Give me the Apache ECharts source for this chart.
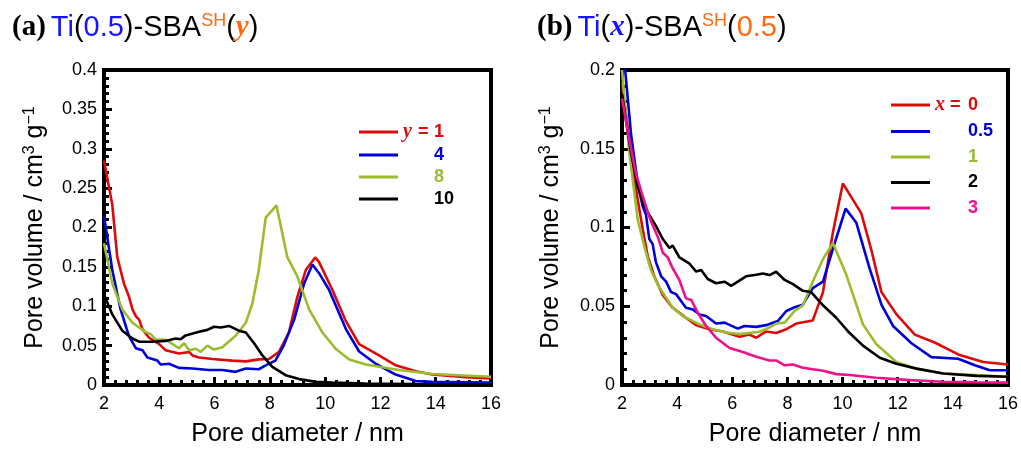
<!DOCTYPE html>
<html>
<head>
<meta charset="utf-8">
<script src="https://cdn.jsdelivr.net/npm/echarts@6/dist/echarts.min.js"></script>
<style>html,body{margin:0;padding:0;background:#fff}#c{width:1021px;height:452px}</style>
</head>
<body>
<div id="c"></div>
<script>
// ---- data (panel a) ----
const a_y1_x = [2.0,2.3,2.48,2.72,2.9,3.03,3.15,3.27,3.39,3.63,4.0,4.23,4.71,5.08,5.2,5.44,5.92,6.64,7.13,7.6,7.97,8.33,8.69,9.0,9.3,9.64,9.78,10.26,10.75,11.23,11.95,12.55,13.28,13.88,15.09,16.0];
const a_y1_v = [0.285,0.229,0.1625,0.129,0.1125,0.096,0.0875,0.083,0.071,0.060,0.052,0.044,0.040,0.042,0.0375,0.035,0.033,0.031,0.030,0.0325,0.033,0.042,0.067,0.1125,0.146,0.162,0.156,0.121,0.081,0.052,0.0375,0.025,0.0175,0.0133,0.010,0.0083];
const a_y4_x = [2.0,2.3,2.6,2.9,3.15,3.39,3.57,3.75,3.93,4.05,4.35,4.71,5.2,5.8,6.28,6.76,7.13,7.6,7.85,8.2,8.5,8.88,9.24,9.54,9.78,10.14,10.75,11.23,11.83,12.55,13.28,13.88,16.0];
const a_y4_v = [0.215,0.146,0.096,0.0625,0.0467,0.044,0.035,0.033,0.031,0.026,0.027,0.0217,0.021,0.019,0.019,0.0167,0.021,0.020,0.025,0.031,0.05,0.083,0.129,0.153,0.142,0.121,0.071,0.0425,0.027,0.0133,0.005,0.004,0.003];
const a_y8_x = [2.0,2.3,2.66,3.03,3.27,3.5,3.69,3.87,4.23,4.71,4.9,5.08,5.32,5.5,5.74,5.98,6.28,6.76,7.13,7.37,7.6,7.85,8.24,8.63,9.0,9.42,9.9,10.38,10.87,11.47,12.68,13.88,16.0];
const a_y8_v = [0.18,0.129,0.096,0.079,0.073,0.0675,0.0646,0.058,0.0575,0.0467,0.053,0.044,0.046,0.042,0.05,0.045,0.048,0.0625,0.079,0.104,0.146,0.2125,0.228,0.1625,0.1375,0.096,0.0667,0.046,0.0325,0.026,0.019,0.014,0.0104];
const a_y10_x = [2.0,2.3,2.66,3.03,3.27,3.75,4.23,4.59,4.77,4.95,5.44,5.74,5.98,6.22,6.52,6.88,7.13,7.43,7.73,8.09,8.57,9.06,9.66,10.26,11.47,13.88,16.0];
const a_y10_v = [0.115,0.0896,0.069,0.059,0.055,0.055,0.056,0.059,0.058,0.063,0.0675,0.07,0.074,0.073,0.075,0.069,0.0667,0.053,0.0375,0.023,0.0125,0.0075,0.004,0.003,0.002,0.001,0.001];

// ---- data (panel b) ----
const b_x0_x = [2.0,2.27,2.51,2.75,2.93,3.17,3.48,3.84,4.32,4.69,5.17,5.66,6.26,6.62,6.87,7.23,7.59,7.96,8.32,8.92,9.29,9.65,10.01,10.68,11.04,11.41,11.95,12.62,13.34,14.25,15.1,16.0];
const b_x0_v = [0.192,0.155,0.124,0.099,0.082,0.069,0.057,0.049,0.0427,0.038,0.0354,0.034,0.0306,0.032,0.030,0.034,0.033,0.0354,0.039,0.041,0.059,0.097,0.128,0.109,0.086,0.059,0.045,0.032,0.027,0.019,0.0146,0.013];
const b_x05_x = [2.0,2.12,2.33,2.57,2.75,2.87,2.99,3.11,3.23,3.42,3.6,3.78,3.96,4.32,4.57,4.81,5.05,5.41,5.72,6.2,6.44,6.87,7.23,7.65,7.96,8.26,8.56,8.92,9.29,9.65,10.11,10.5,10.98,11.41,11.83,12.5,13.22,14.19,14.8,15.34,16.0];
const b_x05_v = [0.225,0.199,0.159,0.128,0.1135,0.108,0.0927,0.0896,0.078,0.069,0.0656,0.059,0.0577,0.049,0.048,0.0448,0.0438,0.039,0.0396,0.0358,0.0375,0.0369,0.038,0.0406,0.047,0.0494,0.051,0.0615,0.0656,0.0865,0.112,0.103,0.074,0.051,0.0375,0.0265,0.0177,0.0167,0.0125,0.0094,0.0094];
const b_x1_x = [2.0,2.27,2.57,2.87,3.05,3.3,3.54,3.84,4.2,4.45,4.81,5.29,5.78,6.26,6.99,7.35,7.59,7.9,8.26,8.56,8.92,9.29,9.65,10.14,10.74,11.22,11.95,12.68,13.65,14.86,16.0];
const b_x1_v = [0.2,0.147,0.105,0.084,0.073,0.0635,0.057,0.049,0.0438,0.0417,0.0385,0.0354,0.0333,0.0323,0.0338,0.0365,0.039,0.0396,0.047,0.0506,0.0656,0.080,0.090,0.0698,0.0385,0.026,0.0146,0.0104,0.0073,0.0063,0.0052];
const b_x2_x = [2.0,2.3,2.57,2.81,2.99,3.23,3.48,3.72,3.84,4.08,4.45,4.69,4.87,5.11,5.41,5.72,5.96,6.2,6.5,6.87,7.11,7.35,7.59,7.9,8.2,8.56,8.86,9.29,9.77,10.2,10.74,11.35,11.95,12.68,13.65,14.86,16.0];
const b_x2_v = [0.185,0.15,0.126,0.1135,0.108,0.101,0.0927,0.087,0.0885,0.081,0.077,0.072,0.073,0.0673,0.0646,0.0656,0.063,0.0656,0.069,0.070,0.0708,0.0698,0.0719,0.0667,0.064,0.0598,0.059,0.0506,0.0427,0.034,0.025,0.0173,0.0135,0.0104,0.0073,0.0058,0.0052];
const b_x3_x = [2.0,2.27,2.51,2.75,2.93,3.05,3.3,3.48,3.66,3.84,4.08,4.32,4.51,4.75,5.05,5.41,5.9,6.38,6.87,7.35,7.59,7.9,8.2,8.56,9.29,9.77,10.26,11.22,12.44,13.65,14.86,16.0];
const b_x3_v = [0.182,0.155,0.134,0.12,0.110,0.104,0.094,0.084,0.081,0.074,0.0667,0.055,0.054,0.0458,0.0375,0.030,0.0235,0.021,0.018,0.0156,0.0156,0.0125,0.013,0.011,0.009,0.0069,0.0063,0.0046,0.0031,0.0021,0.0017,0.0015];

// ---- axis ticks ----
const xTicks = [2, 4, 6, 8, 10, 12, 14, 16];
const yTicksA = [0, 0.05, 0.1, 0.15, 0.2, 0.25, 0.3, 0.35, 0.4];
const yTicksB = [0, 0.05, 0.1, 0.15, 0.2];

const C = {red:'#dc0a0a', blue:'#0000dc', green:'#9bbd2d', black:'#000000', pink:'#f0108c', tblue:'#1414ff', orange:'#ff6a10'};
const SANS = 'Liberation Sans, Arial, sans-serif';
const SERIF = 'Liberation Serif, Times New Roman, serif';

const zip = (xs, vs) => xs.map((x, i) => [x, vs[i]]);

const axisLineStyle = {show:true, onZero:false, lineStyle:{color:'#000', width:4, cap:'square'}};
const majorTick = {show:true, inside:true, length:8, lineStyle:{color:'#000', width:3}};
const minorTick = {show:true, splitNumber:5, length:5, lineStyle:{color:'#000', width:3}};

function xAxisFor(gi) {
  return {
    type:'value', gridIndex:gi, min:xTicks[0], max:xTicks[xTicks.length-1], interval:xTicks[1]-xTicks[0],
    name:'Pore diameter / nm', nameLocation:'middle', nameGap:37,
    nameTextStyle:{fontFamily:SANS, fontSize:25, color:'#000'},
    axisLine:axisLineStyle, axisTick:majorTick, minorTick:minorTick,
    splitLine:{show:false}, minorSplitLine:{show:false},
    axisLabel:{fontFamily:SANS, fontSize:18, color:'#000', margin:10}
  };
}
function yAxisFor(gi, ticks, gap) {
  return {
    type:'value', gridIndex:gi, min:ticks[0], max:ticks[ticks.length-1], interval:ticks[1]-ticks[0],
    name:'Pore volume / cm{sup|3} g{sup|−1}', nameLocation:'middle', nameGap:gap,
    nameTextStyle:{fontFamily:SANS, fontSize:25, color:'#000', lineHeight:27,
      rich:{sup:{fontFamily:SANS, fontSize:16, color:'#000', verticalAlign:'top', lineHeight:12}}},
    axisLine:axisLineStyle, axisTick:majorTick, minorTick:minorTick,
    splitLine:{show:false}, minorSplitLine:{show:false},
    axisLabel:{fontFamily:SANS, fontSize:18, color:'#000', margin:7,
      formatter: v => String(+v.toFixed(2))}
  };
}
function line(name, gi, xs, vs, color) {
  return {name, type:'line', xAxisIndex:gi, yAxisIndex:gi, data:zip(xs, vs),
    symbol:'none', smooth:false, clip:true, lineStyle:{color, width:2.6}, itemStyle:{color}};
}

const legendLabels = {
  y1:'{yv|y}{eqr| = }{nr|1}', y4:'{pad| }{nb|4}', y8:'{pad| }{ng|8}', y10:'{pad| }{nk|10}',
  x0:'{xv|x}{eqr2| = }{nr|0}', x05:'{pad2| }{nb|0.5}', x1:'{pad2| }{ng|1}', x2:'{pad2| }{nk|2}', x3:'{pad2| }{nm|3}'
};
const num = c => ({fontFamily:SANS, fontSize:18, fontWeight:'bold', color:c});
const legRich = {
  yv:{fontFamily:SERIF, fontSize:20, fontStyle:'italic', fontWeight:'bold', color:C.red, width:10},
  xv:{fontFamily:SERIF, fontSize:20, fontStyle:'italic', fontWeight:'bold', color:C.red, width:10},
  eqr:{fontFamily:SANS, fontSize:18, fontWeight:'bold', color:C.red, width:21},
  eqr2:{fontFamily:SANS, fontSize:18, fontWeight:'bold', color:C.red, width:23},
  pad:{fontSize:18, width:31}, pad2:{fontSize:18, width:33},
  nr:num(C.red), nb:num(C.blue), ng:num(C.green), nk:num(C.black), nm:num(C.pink)
};
function legendFor(names, left, top, gap) {
  return {data:names, left, top, padding:0, orient:'vertical', icon:'rect', itemWidth:39, itemHeight:3, itemGap:gap,
    selectedMode:false, formatter: n => legendLabels[n],
    textStyle:{fontFamily:SANS, fontSize:18, lineHeight:18, rich:legRich}};
}

const titleRich = {
  p:{fontFamily:SERIF, fontSize:29, fontWeight:'bold', color:'#000'},
  b:{fontFamily:SANS, fontSize:29, fontWeight:'normal', color:C.tblue},
  k:{fontFamily:SANS, fontSize:29, fontWeight:'normal', color:'#000'},
  o:{fontFamily:SANS, fontSize:29, fontWeight:'normal', color:C.orange},
  sup:{fontFamily:SANS, fontSize:18, fontWeight:'normal', color:C.orange, verticalAlign:'top', lineHeight:16},
  yi:{fontFamily:SERIF, fontSize:29, fontStyle:'italic', fontWeight:'bold', color:C.orange},
  xi:{fontFamily:SERIF, fontSize:29, fontStyle:'italic', fontWeight:'bold', color:C.tblue}
};

const chart = echarts.init(document.getElementById('c'), null, {renderer:'canvas'});
chart.setOption({
  animation:false,
  backgroundColor:'#fff',
  title:[
    {left:12, top:12, padding:0, text:'{p|(a)} {b|Ti}{k|(}{b|0.5}{k|)-SBA}{sup|SH}{k|(}{yi|y}{k|)}', textStyle:{fontWeight:'normal', lineHeight:32, rich:titleRich}},
    {left:537, top:12, padding:0, text:'{p|(b)} {b|Ti}{k|(}{xi|x}{k|)-SBA}{sup|SH}{k|(}{o|0.5}{k|)}', textStyle:{fontWeight:'normal', lineHeight:32, rich:titleRich}}
  ],
  grid:[
    {left:104, top:70, width:387, height:320, show:true, borderColor:'#000', borderWidth:4, backgroundColor:'transparent'},
    {left:622, top:70, width:386, height:320, show:true, borderColor:'#000', borderWidth:4, backgroundColor:'transparent'}
  ],
  xAxis:[xAxisFor(0), xAxisFor(1)],
  yAxis:[yAxisFor(0, yTicksA, 55), yAxisFor(1, yTicksB, 57)],
  legend:[
    legendFor(['y1','y4','y8','y10'], 359, 122, 4),
    legendFor(['x0','x05','x1','x2','x3'], 891, 95, 7.5)
  ],
  series:[
    line('y1', 0, a_y1_x, a_y1_v, C.red),
    line('y4', 0, a_y4_x, a_y4_v, C.blue),
    line('y8', 0, a_y8_x, a_y8_v, C.green),
    line('y10', 0, a_y10_x, a_y10_v, C.black),
    line('x0', 1, b_x0_x, b_x0_v, C.red),
    line('x05', 1, b_x05_x, b_x05_v, C.blue),
    line('x1', 1, b_x1_x, b_x1_v, C.green),
    line('x2', 1, b_x2_x, b_x2_v, C.black),
    line('x3', 1, b_x3_x, b_x3_v, C.pink)
  ]
});
</script>
</body>
</html>
